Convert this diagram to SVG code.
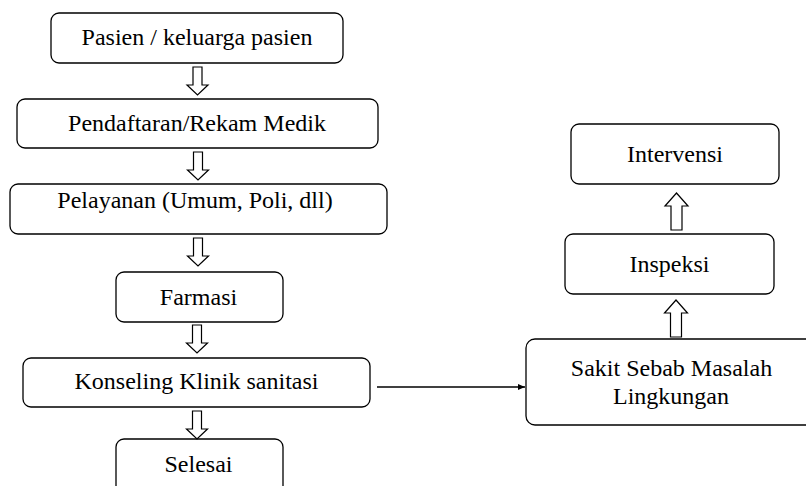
<svg xmlns="http://www.w3.org/2000/svg" width="806" height="486" viewBox="0 0 806 486" font-family="Liberation Serif, Times New Roman, serif">
<style>
.box{fill:#fff;stroke:#000;stroke-width:1.3}
.t{font-size:24px;fill:#000;text-anchor:middle}
.ba{fill:#fff;stroke:#000;stroke-width:1.2}
.ln{stroke:#000;stroke-width:1.3;fill:none}
</style>
<defs>
<path id="dn" d="M-4.5,0 H4.5 V18 H10.5 L0,28 L-10.5,18 H-4.5 Z"/>
<path id="up" d="M-5.5,37 H5.5 V13 H11.5 L0,0 L-11.5,13 H-5.5 Z"/>
<marker id="ah" markerWidth="8" markerHeight="8" refX="7" refY="4" orient="auto" markerUnits="userSpaceOnUse">
<path d="M0,1 L7,4 L0,7 Z" fill="#000"/>
</marker>
</defs>
<g id="n1"><rect class="box" x="51" y="13" width="292" height="50" rx="8"/><text class="t" x="197" y="45">Pasien / keluarga pasien</text></g>
<g id="n2"><rect class="box" x="17" y="99" width="361" height="49" rx="8"/><text class="t" x="197" y="131">Pendaftaran/Rekam Medik</text></g>
<g id="n3"><rect class="box" x="10" y="184" width="377" height="50" rx="8"/><text class="t" x="195" y="208">Pelayanan (Umum, Poli, dll)</text></g>
<g id="n4"><rect class="box" x="116" y="272" width="167" height="50" rx="8"/><text class="t" x="198.5" y="305">Farmasi</text></g>
<g id="n5"><rect class="box" x="23" y="358" width="347" height="49" rx="8"/><text class="t" x="196.5" y="389">Konseling Klinik sanitasi</text></g>
<g id="n6"><rect class="box" x="116" y="439" width="167" height="60" rx="8"/><text class="t" x="198.5" y="472">Selesai</text></g>
<g id="n7"><rect class="box" x="571" y="124" width="208" height="60" rx="8"/><text class="t" x="675" y="162">Intervensi</text></g>
<g id="n8"><rect class="box" x="565" y="234" width="209" height="60" rx="8"/><text class="t" x="669.5" y="272">Inspeksi</text></g>
<g id="n9"><rect class="box" x="526" y="339" width="300" height="86" rx="9"/><text class="t" x="671.5" y="376">Sakit Sebab Masalah</text><text class="t" x="671" y="404">Lingkungan</text></g>
<g id="connectors">
<use href="#dn" class="ba" transform="translate(197.5,67)"/>
<use href="#dn" class="ba" transform="translate(198,152)"/>
<use href="#dn" class="ba" transform="translate(198,238)"/>
<use href="#dn" class="ba" transform="translate(197,325)"/>
<use href="#dn" class="ba" transform="translate(197,411)"/>
<use href="#up" class="ba" transform="translate(676.5,193)"/>
<use href="#up" class="ba" transform="translate(676,300)"/>
<line class="ln" x1="377" y1="387" x2="525" y2="387" marker-end="url(#ah)"/>
</g>
</svg>
